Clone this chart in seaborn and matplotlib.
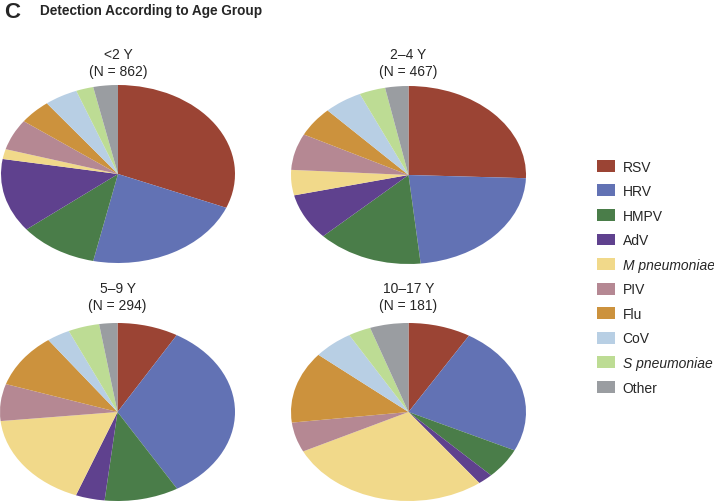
import matplotlib
matplotlib.use("Agg")
import matplotlib.pyplot as plt
import seaborn as sns
from matplotlib.patches import Patch

# ----------------------------
# Data (percent of detections per age group)
# ----------------------------
pathogens = ["RSV", "HRV", "HMPV", "AdV", "M pneumoniae", "PIV", "Flu", "CoV",
             "S pneumoniae", "Other"]
italic_labels = ["M pneumoniae", "S pneumoniae"]

groups = ["<2 Y", "2\u20134 Y", "5\u20139 Y", "10\u201317 Y"]
group_n = [862, 467, 294, 181]

share_lt2 = [31.2, 22.2, 10.9, 13.4, 1.8, 5.6, 4.5, 4.6, 2.4, 3.4]
share_2_4 = [25.6, 22.8, 14.6, 8.4, 4.6, 6.6, 5.4, 5.3, 3.6, 3.2]
share_5_9 = [8.4, 33.1, 10.2, 4.0, 17.6, 6.7, 9.9, 3.2, 4.3, 2.5]
share_10_17 = [8.6, 23.5, 5.5, 2.1, 28.0, 5.4, 13.0, 5.5, 3.1, 5.3]
shares = [share_lt2, share_2_4, share_5_9, share_10_17]

colors = ["#9b4434", "#6272b4", "#4a7d49", "#5f418e", "#f1d98a",
          "#b58893", "#cc923d", "#b8cfe4", "#bddc94", "#9a9da1"]

# ----------------------------
# Style
# ----------------------------
sns.set_theme(style="white")
plt.rcParams['font.family'] = ['Liberation Sans', 'DejaVu Sans']
palette = sns.color_palette(colors)

W, H = 714, 502
fig = plt.figure(figsize=(W / 100, H / 100), dpi=100)

# pie boxes in pixels: left, top, width, height (ellipses)
boxes = [(1, 86, 234, 178), (291, 87, 235, 178),
         (0, 324, 235, 178), (291, 324, 235, 178)]
# title line positions (pixels from top) for each pie
title_y = [(55, 72), (55, 72), (289, 306), (289, 306)]

for i, (vals, box) in enumerate(zip(shares, boxes)):
    l, t, w, h = box
    ax = fig.add_axes([l / W, 1 - (t + h) / H, w / W, h / H])
    ax.pie(vals, colors=palette, startangle=90, counterclock=False,
           radius=1, wedgeprops=dict(linewidth=0))
    ax.set_aspect('auto')
    ax.set_xlim(-1, 1)
    ax.set_ylim(-1, 1)
    ax.axis('off')
    cx = (l + w / 2) / W
    y1, y2 = title_y[i]
    fig.text(cx, 1 - y1 / H, groups[i], ha='center', va='center', fontsize=10)
    fig.text(cx, 1 - y2 / H, "(N = %d)" % group_n[i], ha='center',
             va='center', fontsize=10)

fig.text(4 / W, 1 - 13 / H, "C", fontsize=16, fontweight='bold', va='center')
fig.text(40 / W, 1 - 11 / H, "Detection According to Age Group", fontsize=9.8,
         fontweight='bold', va='center')

handles = [Patch(facecolor=c, edgecolor='none') for c in palette]
leg = fig.legend(handles, pathogens, loc='upper left',
                 bbox_to_anchor=(591 / W, 1 - 155 / H), frameon=False,
                 fontsize=10, handlelength=1.3, handleheight=0.94,
                 handletextpad=0.58, labelspacing=0.76, borderaxespad=0)
for t in leg.get_texts():
    if t.get_text() in italic_labels:
        t.set_style('italic')

fig.savefig("out.png", dpi=100)
